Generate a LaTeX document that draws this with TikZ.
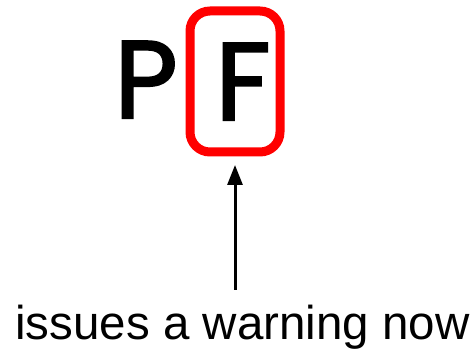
\documentclass[tikz,border=0pt]{standalone}
\usepackage{fontspec}
\setmainfont{Liberation Sans}
\newfontfamily\handfont[FakeBold=2]{Poppins}
\usetikzlibrary{arrows.meta}
\begin{document}
\begin{tikzpicture}[x=1pt,y=-1pt,
  letter/.style={inner sep=0pt, font=\handfont\fontsize{110}{110}\selectfont},
  mark box/.style={draw=red, line width=9pt, rounded corners=20pt},
  caption/.style={inner sep=0pt, font=\fontsize{47.5}{52}\selectfont}]
\useasboundingbox (0,0) rectangle (475,350);
% the two letters
\node[letter, anchor=base] (p) at (146,118) {P};
\node[letter, anchor=base] (f) at (243,120) {F};
% red frame around F
\draw[mark box] (190,11) rectangle (280,152);
% caption and arrow
\node[caption, anchor=base] (txt) at (242.5,340) {issues a warning now};
\coordinate (tail) at (235,290);
\coordinate (tip) at (235,165);
\draw[line width=3pt, -{Triangle[length=20pt,width=15pt]}] (tail) -- (tip);
\end{tikzpicture}
\end{document}
